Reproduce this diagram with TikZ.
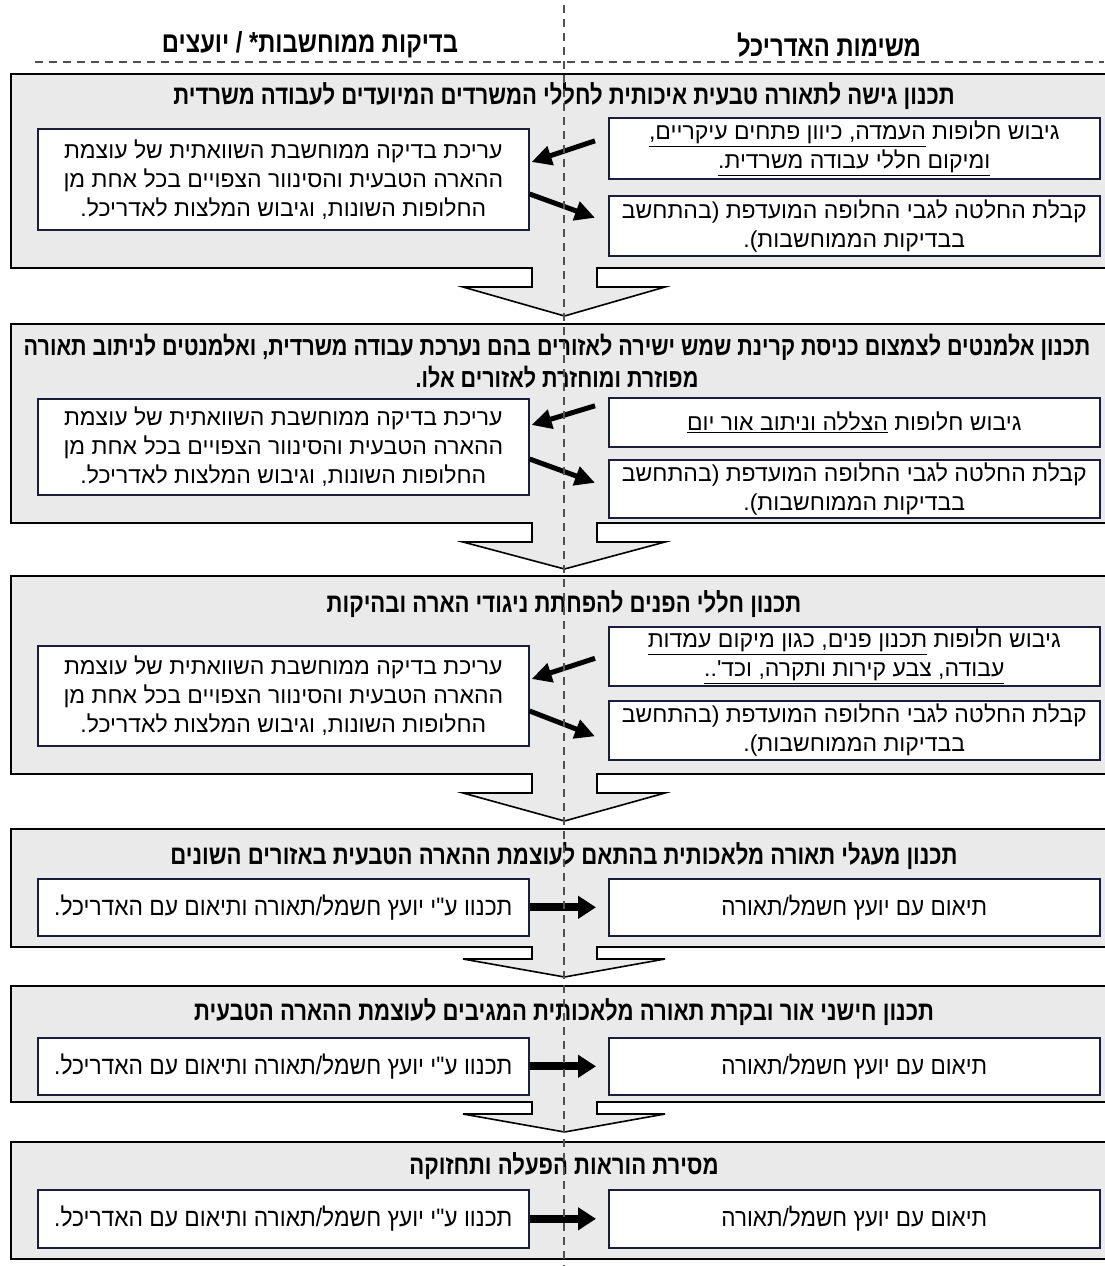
\documentclass[tikz,border=0pt]{standalone}
\usepackage{fontspec}
\usetikzlibrary{arrows.meta}
\TeXXeTstate=1
\newfontfamily\hebfont[Script=Hebrew]{Liberation Sans}
\newfontfamily\hebnarrow[Script=Hebrew,FakeStretch=0.82]{Liberation Sans}
\newfontfamily\hebsemi[Script=Hebrew,FakeStretch=0.9]{Liberation Sans}
\definecolor{panelgray}{HTML}{EAEAEA}
\definecolor{boxline}{HTML}{1C1C3C}
\definecolor{dashgray}{HTML}{505050}
\newcommand\RL[1]{\beginR#1\endR}
\newcommand\ulR[1]{\underline{\beginR#1\endR}}
\newcommand\ltext{\RL{עריכת בדיקה ממוחשבת השוואתית של עוצמת}\\\RL{ההארה הטבעית והסינוור הצפויים בכל אחת מן}\\\RL{החלופות השונות, וגיבוש המלצות לאדריכל.}}
\newcommand\rbtext{\RL{קבלת החלטה לגבי החלופה המועדפת (בהתחשב}\\\RL{בבדיקות הממוחשבות).}}
\newcommand\consl{\RL{תכנוו ע"י יועץ חשמל/תאורה ותיאום עם האדריכל.}}
\newcommand\consr{\RL{תיאום עם יועץ חשמל/תאורה}}
% #1 panel bottom y, #2 shaft bottom y, #3 tip y
\newcommand\flowdown[3]{%
  \fill[panelgray] (532,{#1-1.5}) -- (532,#2) -- (463,#2) -- (564.5,#3) -- (665,#2) -- (597,#2) -- (597,{#1-1.5}) -- cycle;
  \draw[line width=1.6pt, line join=miter] (532,#1) -- (532,#2) -- (463,#2) -- (564.5,#3) -- (665,#2) -- (597,#2) -- (597,#1);
}
\begin{document}
\begin{tikzpicture}[x=1pt,y=-1pt,
  panel/.style={draw=black, line width=1.6pt, fill=panelgray, rectangle, anchor=north west, inner sep=0pt, minimum width=1096pt},
  box/.style={draw=boxline, line width=1.6pt, fill=white, rectangle, anchor=north west, inner sep=0pt, align=center, font=\hebfont\fontsize{23}{29}\selectfont},
  rbox/.style={box, minimum width=491pt},
  lbox/.style={box, minimum width=491pt},
  nrbox/.style={rbox, font=\hebsemi\fontsize{25}{29}\selectfont},
  nlbox/.style={lbox, font=\hebsemi\fontsize{25.3}{29}\selectfont},
  ttl/.style={font=\hebnarrow\bfseries\fontsize{27}{32}\selectfont, align=center, inner sep=0pt},
  hdr/.style={font=\hebnarrow\bfseries\fontsize{29}{32}\selectfont, inner sep=0pt},
  diag/.style={line width=5pt, -{Triangle[length=20pt,width=19pt]}},
  harrow/.style={line width=8pt, -{Triangle[length=18pt,width=22pt]}},
  dashline/.style={draw=dashgray, line width=1.4pt, dash pattern=on 8pt off 6pt}
]
\useasboundingbox (0,0) rectangle (1104,1266);
\fill[white] (0,0) rectangle (1104,1266);

% headers
\node[hdr] (H1) at (829,45) {\RL{משימות האדריכל}};
\node[hdr] (H2) at (310,45) {\RL{בדיקות ממוחשבות* / יועצים}};

% panels
\node[panel, minimum height=194pt] (P1) at (10,73) {};
\node[panel, minimum height=199pt] (P2) at (10,323) {};
\node[panel, minimum height=198pt] (P3) at (10,575) {};
\node[panel, minimum height=118pt] (P4) at (10,828) {};
\node[panel, minimum height=116pt] (P5) at (10,985) {};
\node[panel, minimum height=117pt] (P6) at (10,1141) {};

% big down arrows
\flowdown{267}{287}{316}
\flowdown{522}{542}{569}
\flowdown{773}{793}{821}
\flowdown{946}{959}{977}
\flowdown{1101}{1114}{1132}

% titles
\node[ttl] (T1) at (564,96) {\RL{תכנון גישה לתאורה טבעית איכותית לחללי המשרדים המיועדים לעבודה משרדית}};
\node[ttl, font=\hebnarrow\bfseries\fontsize{26.3}{32}\selectfont] (T2) at (557,361.5) {\RL{תכנון אלמנטים לצמצום כניסת קרינת שמש ישירה לאזורים בהם נערכת עבודה משרדית, ואלמנטים לניתוב תאורה}\\\RL{מפוזרת ומוחזרת לאזורים אלו.}};
\node[ttl] (T3) at (564,604) {\RL{תכנון חללי הפנים להפחתת ניגודי הארה ובהיקות}};
\node[ttl] (T4) at (564,856) {\RL{תכנון מעגלי תאורה מלאכותית בהתאם לעוצמת ההארה הטבעית באזורים השונים}};
\node[ttl] (T5) at (564,1012) {\RL{תכנון חישני אור ובקרת תאורה מלאכותית המגיבים לעוצמת ההארה הטבעית}};
\node[ttl] (T6) at (564,1166) {\RL{מסירת הוראות הפעלה ותחזוקה}};

% panel 1
\node[rbox, minimum height=61pt] (R1a) at (608,117) {\RL{גיבוש חלופות \ulR{העמדה, כיוון פתחים עיקריים,}}\\\ulR{ומיקום חללי עבודה משרדית.}};
\node[rbox, minimum height=60pt] (R1b) at (608,195) {\rbtext};
\node[lbox, minimum height=101pt] (L1) at (37,128) {\ltext};
\draw[diag] ([shift={(-13,-7.5)}]R1a.west) -- ([shift={(2,34)}]L1.north east);
\draw[diag] ([shift={(0,66)}]L1.north east) -- ([shift={(-13,-8)}]R1b.west);

% panel 2
\node[rbox, minimum height=49pt] (R2a) at (608,397) {\RL{גיבוש חלופות \ulR{הצללה וניתוב אור יום}}};
\node[rbox, minimum height=58pt] (R2b) at (608,459) {\rbtext};
\node[lbox, minimum height=96pt] (L2) at (37,398) {\ltext};
\draw[diag] ([shift={(-13,-16.5)}]R2a.west) -- ([shift={(2,27)}]L2.north east);
\draw[diag] ([shift={(0,61)}]L2.north east) -- ([shift={(-13,-6)}]R2b.west);

% panel 3
\node[rbox, minimum height=59pt] (R3a) at (608,626) {\RL{גיבוש חלופות \ulR{תכנון פנים, כגון מיקום עמדות}}\\\ulR{עבודה, צבע קירות ותקרה, וכד'..}};
\node[rbox, minimum height=59pt] (R3b) at (608,700) {\rbtext};
\node[lbox, minimum height=100pt] (L3) at (37,645) {\ltext};
\draw[diag] ([shift={(-13,2)}]R3a.west) -- ([shift={(2,34)}]L3.north east);
\draw[diag] ([shift={(0,66)}]L3.north east) -- ([shift={(-13,6)}]R3b.west);

% panels 4-6
\node[nrbox, minimum height=57pt] (R4) at (608,878) {\consr};
\node[nlbox, minimum height=57pt] (L4) at (37,878) {\consl};
\draw[harrow] (L4.east) -- ([xshift=-12pt]R4.west);
\node[nrbox, minimum height=57pt] (R5) at (608,1037) {\consr};
\node[nlbox, minimum height=57pt] (L5) at (37,1037) {\consl};
\draw[harrow] (L5.east) -- ([xshift=-12pt]R5.west);
\node[nrbox, minimum height=58pt] (R6) at (608,1189) {\consr};
\node[nlbox, minimum height=58pt] (L6) at (37,1189) {\consl};
\draw[harrow] (L6.east) -- ([xshift=-12pt]R6.west);

% dashed guide lines
\coordinate (vtop) at (564,5);
\coordinate (vbot) at (564,1266);
\coordinate (hleft) at (35,62);
\coordinate (hright) at (1104,62);
\draw[dashline] (hleft) -- (hright);
\draw[dashline] (vtop) -- (vbot);
\end{tikzpicture}
\end{document}
